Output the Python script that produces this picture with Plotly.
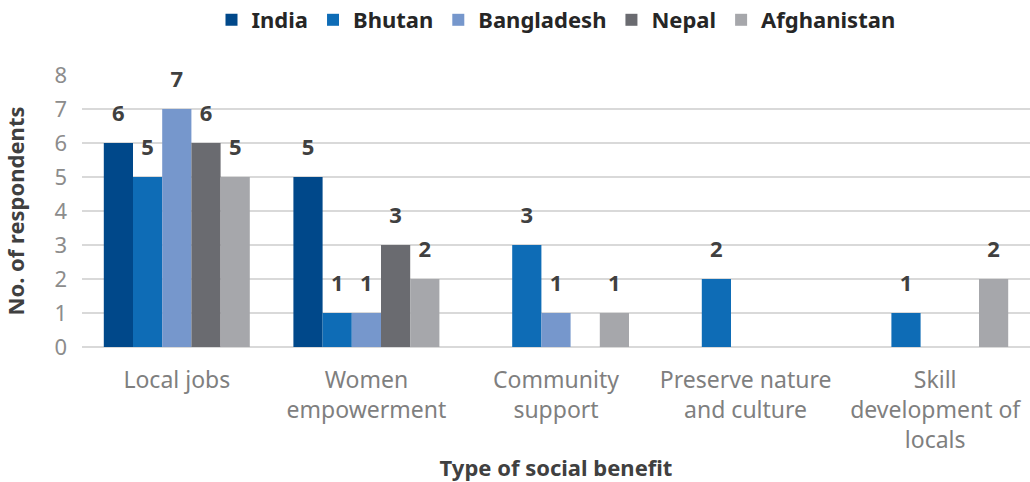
import plotly.graph_objects as go

categories = ["Local jobs", "Women<br>empowerment", "Community<br>support",
              "Preserve nature<br>and culture", "Skill<br>development of<br>locals"]
series_names = ["India", "Bhutan", "Bangladesh", "Nepal", "Afghanistan"]
india = [6, 5, 0, 0, 0]
bhutan = [5, 1, 3, 2, 1]
bangladesh = [7, 1, 1, 0, 0]
nepal = [6, 3, 0, 0, 0]
afghanistan = [5, 2, 1, 0, 2]
y_ticks = [0, 1, 2, 3, 4, 5, 6, 7, 8]

values = [india, bhutan, bangladesh, nepal, afghanistan]
colors = ["#00488a", "#0e6cb6", "#7697cc", "#6a6b70", "#a6a7ab"]

FONT = "Noto Sans, sans-serif"
fig = go.Figure()
for name, vals, col in zip(series_names, values, colors):
    fig.add_trace(go.Bar(
        x=categories, y=vals, name=name, marker_color=col,
        marker_line_width=0, offsetgroup=name,
    ))
for name, vals, col in zip(series_names, values, colors):
    fig.add_trace(go.Scatter(
        x=categories,
        y=[v + 0.8 if v else None for v in vals],
        text=[str(v) if v else "" for v in vals],
        mode="text", textposition="middle center",
        textfont=dict(family=FONT, size=22, color="#404040", weight="bold"),
        offsetgroup=name, showlegend=False, hoverinfo="skip", cliponaxis=False,
    ))

fig.update_layout(
    width=1030, height=482,
    margin=dict(l=82, r=0, t=75, b=135, autoexpand=False),
    barmode="group", bargap=0.23, bargroupgap=0,
    scattermode="group", scattergap=0.23,
    plot_bgcolor="white", paper_bgcolor="white",
    font=dict(family=FONT, size=22, color="#404040"),
    legend=dict(orientation="h", x=0.5, xanchor="center", y=1 - 20 / 482, yanchor="middle",
                yref="container", font=dict(size=22, weight="bold", color="#262626"),
                itemwidth=30, traceorder="normal"),
    xaxis=dict(tickfont=dict(size=23, color="#7f7f7f"), showgrid=False, automargin=False,
               ticklabelstandoff=17,
               title=dict(text="<b>Type of social benefit</b>", font=dict(size=22, color="#404040"), standoff=15),
               showline=False, ticks=""),
    yaxis=dict(range=[0, 8], tickvals=y_ticks, tickfont=dict(size=22, color="#8c8c8c"),
               automargin=False, ticklabelstandoff=14,
               gridcolor="#d9d9d9", gridwidth=2, zeroline=True, zerolinecolor="#d9d9d9", zerolinewidth=2,
               title=dict(text="<b>No. of respondents</b>", font=dict(size=22, color="#404040"), standoff=28),
               ticks="", showline=False),
)
fig.write_html("out.html", config={"displayModeBar": False},
               post_script="document.body.style.margin='0px';document.body.style.overflow='hidden';")
